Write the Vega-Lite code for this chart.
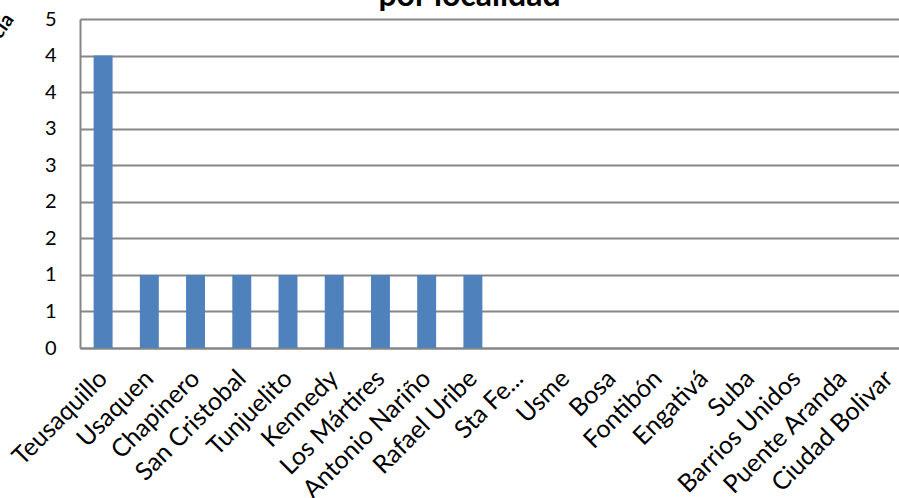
{
  "$schema": "https://vega.github.io/schema/vega-lite/v6.json",
  "autosize": {"type": "none"},
  "padding": {"left": 80, "top": 19, "right": 0, "bottom": 150},
  "width": 819,
  "height": 329,
  "background": "white",
  "title": {"text": "por localidad", "font": "Lato", "fontSize": 32, "fontWeight": "bold", "color": "black", "anchor": "middle", "baseline": "alphabetic", "offset": 8, "dx": -20, "dy": 37},
  "data": {"values": [
    {"localidad": "Teusaquillo", "casos": 4},
    {"localidad": "Usaquen", "casos": 1},
    {"localidad": "Chapinero", "casos": 1},
    {"localidad": "San Cristobal", "casos": 1},
    {"localidad": "Tunjuelito", "casos": 1},
    {"localidad": "Kennedy", "casos": 1},
    {"localidad": "Los Mártires", "casos": 1},
    {"localidad": "Antonio Nariño", "casos": 1},
    {"localidad": "Rafael Uribe", "casos": 1},
    {"localidad": "Sta Fe...", "casos": 0},
    {"localidad": "Usme", "casos": 0},
    {"localidad": "Bosa", "casos": 0},
    {"localidad": "Fontibón", "casos": 0},
    {"localidad": "Engativá", "casos": 0},
    {"localidad": "Suba", "casos": 0},
    {"localidad": "Barrios Unidos", "casos": 0},
    {"localidad": "Puente Aranda", "casos": 0},
    {"localidad": "Ciudad Bolivar", "casos": 0}
  ]},
  "mark": {"type": "bar", "color": "#4F81BD"},
  "encoding": {
    "x": {
      "field": "localidad", "type": "nominal", "sort": null,
      "scale": {"range": [0, 832], "paddingInner": 0.59, "paddingOuter": 0.295},
      "axis": {"title": null, "labelAngle": -45, "labelAlign": "right", "labelBaseline": "middle", "labelPadding": 26, "labelOffset": 0, "ticks": false, "domainColor": "#868686", "domainWidth": 2, "labelFont": "Lato", "labelFontSize": 25, "labelColor": "black", "labelOverlap": false, "labelLimit": 0, "grid": false}
    },
    "y": {
      "field": "casos", "type": "quantitative",
      "scale": {"domain": [0, 4.5], "nice": false},
      "axis": {"values": [0, 0.5, 1, 1.5, 2, 2.5, 3, 3.5, 4, 4.5], "labelExpr": "round(datum.value)", "grid": true, "gridColor": "#868686", "gridWidth": 2, "domainColor": "#868686", "domainWidth": 2, "ticks": false, "labelPadding": 24, "labelFont": "Lato", "labelFontSize": 20, "labelColor": "black", "labelBound": false, "labelFlush": false, "title": "Frecuencia", "titleFont": "Lato", "titleFontSize": 20, "titleFontWeight": "bold", "titleColor": "black", "titleAngle": -55, "titleAlign": "right", "titleBaseline": "alphabetic", "titleX": -66, "titleY": 0}
    }
  },
  "config": {"view": {"stroke": null}}
}
